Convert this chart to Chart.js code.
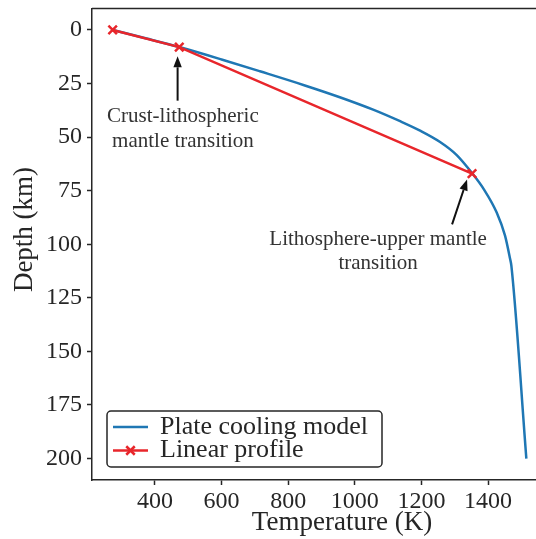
<!DOCTYPE html>
<html><head><meta charset="utf-8">
<script src="https://cdn.jsdelivr.net/npm/chart.js@4.4.1/dist/chart.umd.min.js"></script>
<style>html,body{margin:0;padding:0;background:#fff;overflow:hidden}#wrap{width:536px;height:539px;overflow:hidden;position:relative;background:#fff}canvas{display:block}</style>
</head><body><div id="wrap"><canvas id="c" width="560" height="539" style="width:560px;height:539px"></canvas></div>
<script>
// ---- data ----
const plateT     = [273, 375, 473, 600, 715, 850, 955, 1055, 1136, 1196, 1256, 1306, 1352, 1388, 1426, 1451, 1466, 1470, 1515];
const plateDepth = [0,   4,   8,   13.8, 19.3, 25.9, 31.4, 37.2, 42.6, 47.0, 52.3, 58.4, 66.8, 74.5, 85.2, 96, 106.7, 110, 200];
const linearT     = [273, 473, 1352];
const linearDepth = [0,   8,   67];
const xTicks = [400, 600, 800, 1000, 1200, 1400];
const yTicks = [0, 25, 50, 75, 100, 125, 150, 175, 200];
const seriesLabels = ['Plate cooling model', 'Linear profile'];
const xTitle = 'Temperature (K)';
const yTitle = 'Depth (km)';
const noteTexts = [['Crust-lithospheric', 'mantle transition'], ['Lithosphere-upper mantle', 'transition']];
// annotation anchors in data units (text centre, arrow tail, arrow tip)
const noteText  = [[484, 40.5], [1070, 97.7]];
const noteTail  = [[468, 33], [1292, 90.7]];
const noteTip   = [[468, 12.3], [1337, 69.8]];

// ---- styles ----
const BLUE = '#1f77b4', RED = '#e8262b', AX = '#262626';
const FONT = "'Liberation Serif', 'Times New Roman', serif";
Chart.defaults.font.family = FONT;

const framePlugin = {
  id: 'frame',
  afterDraw(chart) {
    const {ctx, chartArea: a} = chart;
    ctx.save();
    ctx.strokeStyle = AX; ctx.lineWidth = 1.5;
    ctx.beginPath();
    ctx.moveTo(a.left, a.top); ctx.lineTo(a.right, a.top); ctx.lineTo(a.right, a.bottom);
    ctx.stroke();
    ctx.fillStyle = AX; ctx.font = '27px ' + FONT;
    ctx.textAlign = 'center'; ctx.textBaseline = 'middle';
    ctx.fillText(xTitle, a.left + 250, a.bottom + 43);
    ctx.translate(a.left - 67, a.top + 221);
    ctx.rotate(-Math.PI / 2);
    ctx.fillText(yTitle, 0, 0);
    ctx.restore();
  }
};

const notePlugin = {
  id: 'notes',
  afterDatasetsDraw(chart) {
    const {ctx, scales: {x, y}} = chart;
    ctx.save();
    noteTexts.forEach((lines, i) => {
      const cx = x.getPixelForValue(noteText[i][0]);
      const cy = y.getPixelForValue(noteText[i][1]);
      ctx.fillStyle = '#333';
      ctx.font = '21px ' + FONT;
      ctx.textAlign = 'center'; ctx.textBaseline = 'middle';
      lines.forEach((t, k) => ctx.fillText(t, cx, cy + k * 24.5));
      const x0 = x.getPixelForValue(noteTail[i][0]), y0 = y.getPixelForValue(noteTail[i][1]);
      const x1 = x.getPixelForValue(noteTip[i][0]), y1 = y.getPixelForValue(noteTip[i][1]);
      const ang = Math.atan2(y1 - y0, x1 - x0);
      const hl = 11, hw = 4.2;
      const bx = x1 - hl * Math.cos(ang), by = y1 - hl * Math.sin(ang);
      ctx.strokeStyle = '#111'; ctx.fillStyle = '#111'; ctx.lineWidth = 2;
      ctx.beginPath(); ctx.moveTo(x0, y0); ctx.lineTo(bx, by); ctx.stroke();
      ctx.beginPath();
      ctx.moveTo(x1, y1);
      ctx.lineTo(bx + hw * Math.sin(ang), by - hw * Math.cos(ang));
      ctx.lineTo(bx - hw * Math.sin(ang), by + hw * Math.cos(ang));
      ctx.closePath(); ctx.fill();
    });
    ctx.restore();
  }
};

const legendPlugin = {
  id: 'boxLegend',
  afterDraw(chart) {
    const {ctx, chartArea: a} = chart;
    const L = a.left + 15, B = a.bottom - 13, W = 275, H = 56;
    const T = B - H;
    ctx.save();
    ctx.fillStyle = '#fff'; ctx.strokeStyle = AX; ctx.lineWidth = 1.5;
    ctx.beginPath();
    if (ctx.roundRect) ctx.roundRect(L, T, W, H, 4); else ctx.rect(L, T, W, H);
    ctx.fill(); ctx.stroke();
    chart.data.datasets.forEach((ds, i) => {
      const yy = T + 16 + i * 23.5;
      ctx.strokeStyle = ds.borderColor; ctx.lineWidth = ds.borderWidth;
      ctx.beginPath(); ctx.moveTo(L + 6, yy); ctx.lineTo(L + 41, yy); ctx.stroke();
      if (ds.pointRadius > 0) {
        Chart.helpers.drawPoint(ctx, {pointStyle: ds.pointStyle, radius: ds.pointRadius, borderWidth: ds.pointBorderWidth, rotation: 0}, L + 23.5, yy);
      }
      ctx.fillStyle = AX; ctx.font = '26px ' + FONT;
      ctx.textAlign = 'left'; ctx.textBaseline = 'middle';
      ctx.fillText(ds.label, L + 53, yy);
    });
    ctx.restore();
  }
};

const pts = (xs, ys) => xs.map((v, i) => ({x: v, y: ys[i]}));

new Chart(document.getElementById('c'), {
  type: 'line',
  data: {
    datasets: [
      {label: seriesLabels[0], data: pts(plateT, plateDepth), borderColor: BLUE, backgroundColor: BLUE,
       borderWidth: 2.5, pointRadius: 0, cubicInterpolationMode: 'monotone', fill: false, order: 1},
      {label: seriesLabels[1], data: pts(linearT, linearDepth), borderColor: RED, backgroundColor: RED,
       borderWidth: 2.5, pointStyle: 'crossRot', pointRadius: 6, pointBorderWidth: 2.5,
       pointBorderColor: RED, pointBackgroundColor: RED, tension: 0, fill: false, order: 0}
    ]
  },
  options: {
    responsive: false, animation: false, devicePixelRatio: 1,
    layout: {padding: {left: 0, right: 13, top: 4, bottom: 0}},
    plugins: {legend: {display: false}, tooltip: {enabled: false}},
    scales: {
      x: {
        type: 'linear', position: 'bottom', min: 211, max: 1577,
        afterBuildTicks: s => { s.ticks = xTicks.map(v => ({value: v})); },
        afterFit: s => { s.height = 59; s.paddingLeft = 0; s.paddingRight = 0; },
        grid: {drawOnChartArea: false, drawTicks: true, tickLength: 5, tickWidth: 1.5, tickColor: AX, color: AX},
        border: {display: true, color: AX, width: 1.5},
        ticks: {font: {size: 24}, color: AX, padding: 2, maxRotation: 0, autoSkip: false, callback: v => String(v)},
        title: {display: false}
      },
      y: {
        type: 'linear', reverse: true, min: -10, max: 210,
        afterBuildTicks: s => { s.ticks = yTicks.map(v => ({value: v})); },
        afterFit: s => { s.width = 92; s.paddingTop = 0; s.paddingBottom = 0; },
        grid: {drawOnChartArea: false, drawTicks: true, tickLength: 5, tickWidth: 1.5, tickColor: AX, color: AX},
        border: {display: true, color: AX, width: 1.5},
        ticks: {font: {size: 24}, color: AX, padding: 5, autoSkip: false, callback: v => String(v)},
        title: {display: false}
      }
    }
  },
  plugins: [framePlugin, notePlugin, legendPlugin]
});
</script></body></html>
